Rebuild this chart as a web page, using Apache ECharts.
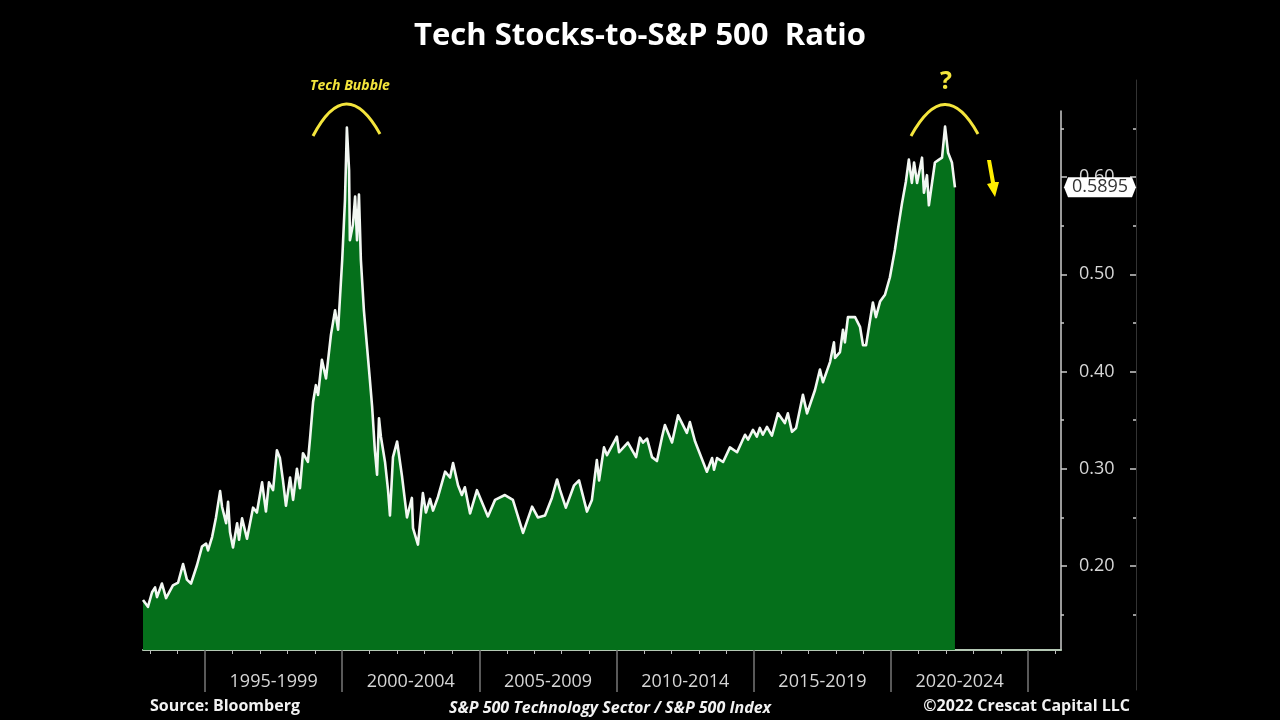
<!DOCTYPE html>
<html>
<head>
<meta charset="utf-8">
<style>html,body{margin:0;padding:0;background:#000}#chart{width:1280px;height:720px}</style>
<script src="https://cdn.jsdelivr.net/npm/echarts@6/dist/echarts.min.js"></script>
</head>
<body>
<div id="chart"></div>
<script>
// decimal years
var years = [1992.74,1992.92,1993.07,1993.18,1993.25,1993.43,1993.58,1993.83,1994.02,1994.20,1994.34,1994.49,1994.71,1994.89,
1995.04,1995.11,1995.26,1995.40,1995.55,1995.62,1995.77,1995.84,1995.91,1996.02,1996.17,1996.24,1996.35,1996.53,1996.75,1996.89,
1997.08,1997.22,1997.33,1997.48,1997.62,1997.73,1997.84,1997.95,1998.10,1998.21,1998.35,1998.46,1998.57,1998.75,1998.83,1998.94,
1999.04,1999.12,1999.26,1999.41,1999.59,1999.74,1999.85,2000.00,2000.10,2000.17,2000.25,2000.28,2000.39,2000.47,2000.54,2000.61,2000.68,2000.79,2000.90,
2001.01,2001.09,2001.19,2001.27,2001.34,2001.41,2001.56,2001.67,2001.74,2001.85,2002.00,2002.18,2002.36,2002.54,2002.58,2002.76,2002.94,
2003.05,2003.20,2003.31,2003.49,2003.56,2003.75,2003.93,2004.04,2004.22,2004.36,2004.47,2004.66,2004.91,2005.31,2005.57,2005.93,
2006.22,2006.59,2006.92,2007.13,2007.39,2007.64,2007.83,2007.94,2008.15,2008.45,2008.63,2008.92,2009.10,2009.28,2009.36,2009.54,2009.65,
2010.01,2010.09,2010.41,2010.71,2010.85,2010.96,2011.11,2011.29,2011.47,2011.65,2011.76,2012.02,2012.24,2012.56,2012.67,2012.86,
2013.29,2013.48,2013.55,2013.66,2013.88,2014.13,2014.39,2014.68,2014.79,2014.97,2015.11,2015.22,2015.33,2015.48,2015.66,2015.88,
2016.13,2016.24,2016.39,2016.54,2016.79,2016.94,2017.23,2017.41,2017.52,2017.78,2017.92,2017.96,2018.14,2018.25,2018.32,2018.43,2018.69,2018.87,2018.98,
2019.09,2019.34,2019.45,2019.60,2019.78,2019.96,2020.14,2020.25,2020.40,2020.54,2020.65,2020.76,2020.84,2020.95,
2021.13,2021.20,2021.31,2021.38,2021.60,2021.75,2021.86,2021.97,2022.08,2022.22,2022.33];
var ratio = [.165,.158,.173,.178,.168,.182,.167,.180,.183,.202,.186,.182,.201,.220,
.223,.216,.230,.250,.277,.261,.244,.266,.235,.219,.244,.227,.249,.228,.260,.255,
.286,.256,.286,.278,.319,.311,.288,.262,.291,.268,.300,.280,.316,.307,.332,.369,
.386,.376,.412,.393,.438,.463,.443,.515,.576,.651,.607,.535,.551,.580,.535,.582,.515,.463,.427,
.391,.364,.319,.294,.352,.333,.307,.278,.252,.312,.328,.292,.250,.270,.239,.222,.275,
.255,.269,.257,.271,.270,.297,.291,.306,.283,.273,.281,.254,.278,.251,.268,.273,
.268,.234,.261,.250,.252,.270,.289,.278,.260,.283,.288,.256,.268,.309,.288,.322,.314,
.333,.317,.327,.312,.332,.327,.331,.312,.308,.332,.345,.327,.355,.337,.348,.328,
.297,.311,.299,.311,.307,.322,.317,.335,.330,.340,.333,.342,.335,.343,.334,.357,
.347,.357,.338,.342,.376,.357,.381,.402,.389,.410,.430,.414,.420,.443,.430,.456,.456,.446,.427,
.427,.471,.456,.472,.479,.497,.525,.546,.573,.595,.618,.594,.615,.594,
.620,.584,.602,.571,.615,.618,.620,.652,.625,.615,.5895];

var periodLabels = ['1995-1999','2000-2004','2005-2009','2010-2014','2015-2019','2020-2024'];
var periodCentres = [1997.5,2002.5,2007.5,2012.5,2017.5,2022.5];
var periodTicks = [1995,2000,2005,2010,2015,2020,2025];
var yearTicks = [1993,1994,1996,1997,1998,1999,2001,2002,2003,2004,2006,2007,2008,2009,2011,2012,2013,2014,2016,2017,2018,2019,2021,2022,2023,2024,2026];
var majorY = [0.20,0.30,0.40,0.50,0.60];
var minorY = [0.15,0.25,0.35,0.45,0.55,0.65];
var lastValue = 0.5895;

var xMin = 1992.74, xMax = 2026.195;
var yMin = 0.1136, yMax = 0.668;
var font = '"Open Sans", sans-serif';
var yellow = '#f4e53c';

function yTicks(grid, vals, len, min, max, inside, extra) {
  return Object.assign({
    type: 'value', gridIndex: grid, position: 'right', min: min, max: max,
    splitLine: {show: false},
    axisLine: {show: false, onZero: false},
    axisLabel: {show: false},
    axisTick: {show: true, inside: inside, length: len, customValues: vals, lineStyle: {color: '#ccc', width: 1.5}}
  }, extra || {});
}

var chart = echarts.init(document.getElementById('chart'));
chart.setOption({
  backgroundColor: '#000',
  animation: false,
  grid: [
    {left: 143, right: 219, top: 111, bottom: 70},
    {left: 143, right: 144, top: 80, bottom: 30}
  ],
  xAxis: [
    {type: 'value', gridIndex: 0, position: 'bottom', min: xMin, max: xMax, splitLine: {show: false},
      axisLine: {show: true, onZero: false, lineStyle: {color: '#b4c8b4', width: 2}},
      axisTick: {show: true, length: 4, customValues: yearTicks, lineStyle: {color: '#bbb', width: 1}},
      axisLabel: {show: true, customValues: periodCentres, margin: 23, color: '#d6d6d6', fontFamily: font, fontSize: 18,
        formatter: function (v) { return periodLabels[periodCentres.indexOf(v)]; }}},
    {type: 'value', gridIndex: 0, position: 'bottom', min: xMin, max: xMax, splitLine: {show: false},
      axisLine: {show: false, onZero: false}, axisLabel: {show: false},
      axisTick: {show: true, length: 42, customValues: periodTicks, lineStyle: {color: '#777', width: 1.5}}},
    {type: 'value', gridIndex: 1, min: xMin, max: xMax, show: false}
  ],
  yAxis: [
    yTicks(0, majorY, 6, yMin, yMax, false, {
      axisLine: {show: true, onZero: false, lineStyle: {color: '#ccc', width: 1.5}},
      axisLabel: {show: true, customValues: majorY, margin: 18, color: '#d6d6d6', fontFamily: font, fontSize: 18,
        formatter: function (v) { return v.toFixed(2); }}
    }),
    yTicks(0, minorY, 3, yMin, yMax, false),
    yTicks(1, majorY, 6, 0.0724, 0.6998, true, {
      axisLine: {show: true, onZero: false, lineStyle: {color: '#333', width: 1}}
    }),
    yTicks(1, minorY, 3, 0.0724, 0.6998, true)
  ],
  series: [{
    type: 'line',
    xAxisIndex: 0,
    yAxisIndex: 0,
    data: years.map(function (y, i) { return [y, ratio[i]]; }),
    showSymbol: false,
    sampling: null,
    lineStyle: {color: '#f2f7f2', width: 2.6, join: 'round'},
    areaStyle: {color: '#05701b', opacity: 1, origin: 'start'},
    z: 2,
    markPoint: {
      silent: true,
      symbol: 'path://M4 0 L68 0 L72 10 L68 20 L4 20 L0 10Z',
      symbolSize: [72, 20],
      symbolOffset: [39, 0],
      itemStyle: {color: '#fff'},
      label: {show: true, position: 'inside', color: '#333', fontFamily: font, fontSize: 18,
        formatter: function () { return lastValue.toFixed(4); }},
      data: [{coord: [xMax, 0.5897]}]
    }
  }],
  graphic: [
    {type: 'text', x: 640, y: 36, style: {text: 'Tech Stocks-to-S&P 500  Ratio', fill: '#fff', font: 'bold 31px ' + font, textAlign: 'center', textVerticalAlign: 'middle'}},
    {type: 'text', x: 350, y: 86, style: {text: 'Tech Bubble', fill: yellow, font: 'italic bold 14px ' + font, textAlign: 'center', textVerticalAlign: 'middle'}},
    {type: 'text', x: 946, y: 82, style: {text: '?', fill: yellow, font: 'bold 25px ' + font, textAlign: 'center', textVerticalAlign: 'middle'}},
    {type: 'text', x: 150, y: 706, style: {text: 'Source: Bloomberg', fill: '#f2f2f2', font: 'bold 16px ' + font, textVerticalAlign: 'middle'}},
    {type: 'text', x: 610, y: 708, style: {text: 'S&P 500 Technology Sector / S&P 500 Index', fill: '#f2f2f2', font: 'italic bold 16px ' + font, textAlign: 'center', textVerticalAlign: 'middle'}},
    {type: 'text', x: 1130, y: 706, style: {text: '©2022 Crescat Capital LLC', fill: '#f2f2f2', font: 'bold 16px ' + font, textAlign: 'right', textVerticalAlign: 'middle'}},
    {type: 'bezierCurve', shape: {x1: 313, y1: 136, cpx1: 346, cpy1: 73, x2: 380, y2: 134}, style: {stroke: yellow, lineWidth: 3, fill: null}},
    {type: 'bezierCurve', shape: {x1: 911, y1: 136, cpx1: 945, cpy1: 74, x2: 978, y2: 134}, style: {stroke: yellow, lineWidth: 3, fill: null}},
    {type: 'polygon', shape: {points: [[987, 160], [991, 160], [995, 182], [999, 182], [995, 197], [987, 184], [991, 183]]}, style: {fill: '#ffee00'}}
  ]
});
window.onresize = chart.resize;
</script>
</body>
</html>
